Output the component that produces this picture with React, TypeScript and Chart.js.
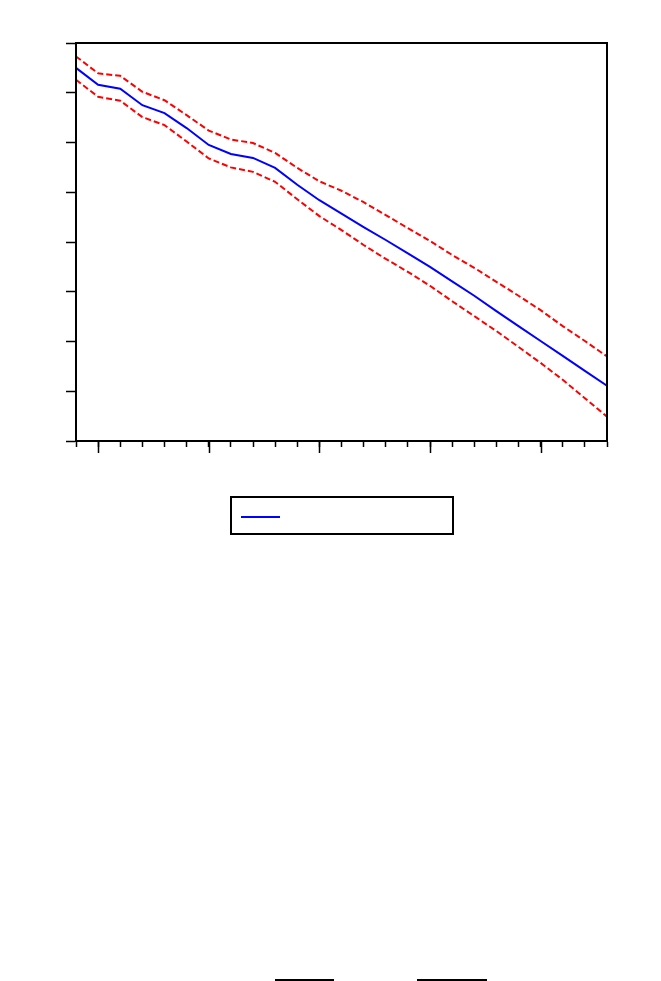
import React, { useEffect, useRef } from "react";
import { Chart, registerables } from "chart.js";

Chart.register(...registerables);

const categories = [
  "1", "2", "3", "4", "5", "6", "7", "8", "9", "10", "11", "12", "13",
  "14", "15", "16", "17", "18", "19", "20", "21", "22", "23", "24", "25",
];

const forecast = [
  7.50, 7.16, 7.08, 6.75, 6.59, 6.29, 5.95, 5.77, 5.69, 5.49, 5.15, 4.84, 4.57,
  4.30, 4.04, 3.77, 3.50, 3.21, 2.92, 2.61, 2.31, 2.01, 1.71, 1.41, 1.11,
];

const upperBand = [
  7.73, 7.39, 7.34, 7.02, 6.85, 6.55, 6.24, 6.06, 5.99, 5.79, 5.49, 5.22, 5.03,
  4.80, 4.54, 4.28, 4.02, 3.74, 3.48, 3.20, 2.92, 2.63, 2.31, 2.01, 1.70,
];

const lowerBand = [
  7.26, 6.92, 6.84, 6.51, 6.35, 6.02, 5.68, 5.50, 5.41, 5.21, 4.86, 4.52, 4.24,
  3.94, 3.66, 3.40, 3.12, 2.81, 2.51, 2.21, 1.89, 1.57, 1.23, 0.86, 0.49,
];

const majorTickIndices = [1, 6, 11, 16, 21];

const decorPlugin = {
  id: "decor",
  afterDraw(chart: any) {
    const { ctx, chartArea, scales } = chart;
    const { left, top, right, bottom } = chartArea;
    const x = scales.x;
    ctx.save();
    ctx.strokeStyle = "#000";
    ctx.lineWidth = 2;
    ctx.strokeRect(left, top, right - left, bottom - top);
    // longer major ticks
    ctx.lineWidth = 1.5;
    majorTickIndices.forEach((i) => {
      const px = Math.round(x.getPixelForValue(i)) + 0.5;
      ctx.beginPath();
      ctx.moveTo(px, bottom);
      ctx.lineTo(px, bottom + 12);
      ctx.stroke();
    });
    // legend box
    ctx.lineWidth = 2;
    ctx.strokeRect(231, 497, 222, 37);
    ctx.strokeStyle = "#0000ff";
    ctx.lineWidth = 2;
    ctx.beginPath();
    ctx.moveTo(241, 517);
    ctx.lineTo(280, 517);
    ctx.stroke();
    // bottom rules
    ctx.strokeStyle = "#000";
    ctx.lineWidth = 2;
    ctx.beginPath();
    ctx.moveTo(275, 980);
    ctx.lineTo(334, 980);
    ctx.moveTo(417, 980);
    ctx.lineTo(487, 980);
    ctx.stroke();
    ctx.restore();
  },
};

export default function App() {
  const canvasRef = useRef<HTMLCanvasElement | null>(null);

  useEffect(() => {
    if (!canvasRef.current) return;
    const chart = new Chart(canvasRef.current, {
      type: "line",
      data: {
        labels: categories,
        datasets: [
          {
            label: "Forecast",
            data: forecast,
            borderColor: "#0000ff",
            borderWidth: 2,
            pointRadius: 0,
            fill: false,
            tension: 0,
          },
          {
            label: "± 2 S.E. upper",
            data: upperBand,
            borderColor: "#ff0000",
            borderWidth: 2,
            borderDash: [6, 3],
            pointRadius: 0,
            fill: false,
            tension: 0,
          },
          {
            label: "± 2 S.E. lower",
            data: lowerBand,
            borderColor: "#ff0000",
            borderWidth: 2,
            borderDash: [6, 3],
            pointRadius: 0,
            fill: false,
            tension: 0,
          },
        ],
      },
      options: {
        responsive: false,
        animation: false,
        layout: { padding: { left: 66, top: 43, right: 54, bottom: 528 } },
        plugins: {
          legend: { display: false },
          tooltip: { enabled: false },
          title: { display: false },
        },
        scales: {
          x: {
            type: "category",
            offset: false,
            afterFit: (s: any) => {
              s.height = 12;
            },
            grid: {
              drawOnChartArea: false,
              drawTicks: true,
              tickLength: 6,
              tickColor: "#000",
              tickWidth: 1.5,
            },
            border: { display: true, color: "#000", width: 2 },
            ticks: { display: false, autoSkip: false },
          },
          y: {
            min: 0,
            max: 8,
            afterFit: (s: any) => {
              s.width = 10;
            },
            grid: {
              drawOnChartArea: false,
              drawTicks: true,
              tickLength: 10,
              tickColor: "#000",
              tickWidth: 1.5,
            },
            border: { display: true, color: "#000", width: 2 },
            ticks: { display: false, stepSize: 1 },
          },
        },
      },
      plugins: [decorPlugin],
    });
    return () => chart.destroy();
  }, []);

  return (
    <div style={{ position: "absolute", left: 0, top: 0, width: 661, height: 981, background: "#fff" }}>
      <canvas ref={canvasRef} width={661} height={981} style={{ display: "block" }} />
    </div>
  );
}
